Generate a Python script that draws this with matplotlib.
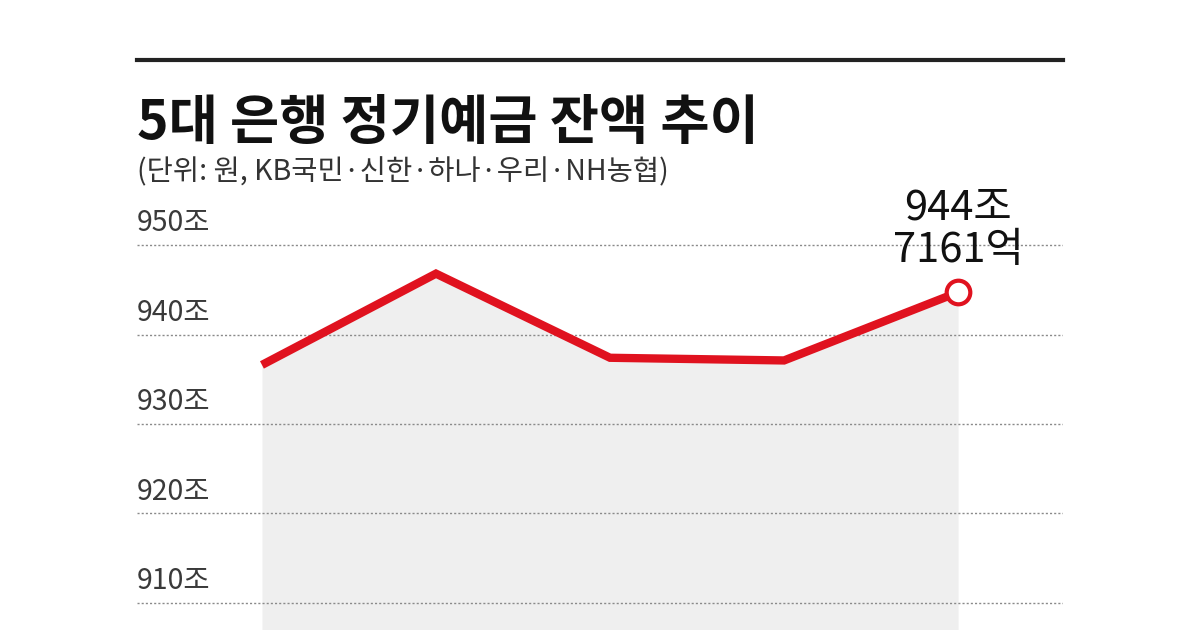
import matplotlib
matplotlib.use("Agg")
import matplotlib.pyplot as plt
from matplotlib.lines import Line2D

plt.rcParams['font.family'] = ['Noto Sans CJK KR', 'DejaVu Sans']

# Data (조 원)
periods = [0, 1, 2, 3, 4]
balances = [936.6, 946.8, 937.4, 937.1, 944.7161]
yticks = [910, 920, 930, 940, 950]
ytick_labels = ["910조", "920조", "930조", "940조", "950조"]
title = "5대 은행 정기예금 잔액 추이"
subtitle = "(단위: 원, KB국민·신한·하나·우리·NH농협)"
last_label = "944조\n7161억"

RED = "#e0121f"

fig = plt.figure(figsize=(12, 6.3), dpi=100)
ax = fig.add_axes([137/1200, 0, 926/1200, 430/630])
ax.set_xlim(-0.718, 4.603)
ax.set_ylim(906.98, 955.03)
ax.axis('off')

# fill under line
ax.fill_between(periods, balances, 900, color="#efefef", zorder=1, linewidth=0)

# gridlines + labels
for v, lab in zip(yticks, ytick_labels):
    ax.axhline(v, color="#8a8a8a", linewidth=1.0, linestyle=(0, (1.5, 1.5)), zorder=2)
    ax.text(-0.718, v + 0.75, lab, fontsize=20.5, color="#3a3a3a",
            ha='left', va='bottom', zorder=3)

# line
ax.plot(periods, balances, color=RED, linewidth=6, solid_joinstyle='miter',
        solid_capstyle='butt', zorder=4)
ax.plot(periods[-1], balances[-1], marker='o', markersize=17, markerfacecolor='white',
        markeredgecolor=RED, markeredgewidth=3, zorder=5, linestyle='none')

ax.annotate(last_label, xy=(periods[-1], balances[-1]), xytext=(0, 15),
            textcoords='offset points', ha='center', va='bottom',
            fontsize=30, color="#111111", linespacing=1.05, zorder=6)

# top rule
fig.add_artist(Line2D([137/1200, 1063/1200], [1 - 60/630, 1 - 60/630],
                      color="#222222", linewidth=3))

fig.text(137/1200, 1 - 123/630, title, fontsize=38.5, fontweight='bold',
         color="#111111", ha='left', va='center')
fig.text(137/1200, 1 - 172/630, subtitle, fontsize=20.5, color="#333333",
         ha='left', va='center')

fig.savefig("out.png", dpi=100, facecolor='white')
